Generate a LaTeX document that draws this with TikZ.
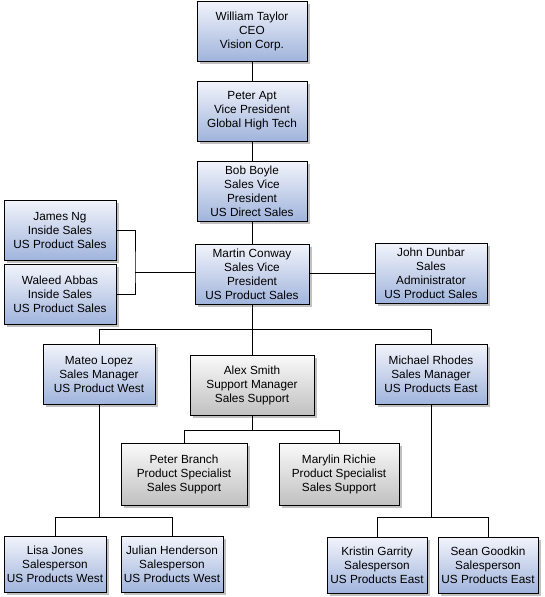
\documentclass[tikz,border=0pt]{standalone}
\usepackage{fontspec}
\setmainfont{Liberation Sans}
\usepackage{tikz}
\usepackage{xcolor}
\usetikzlibrary{positioning,shadows}

\definecolor{boxTop}{RGB}{242,244,251}
\definecolor{boxBottom}{RGB}{160,180,220}
\definecolor{greyTop}{RGB}{250,250,250}
\definecolor{greyBottom}{RGB}{192,192,192}

\tikzset{
  person/.style={draw=black,line width=0.9pt,align=center,inner sep=1pt,
    font=\fontsize{11.8}{14}\selectfont,
    top color=boxTop,bottom color=boxBottom,
    drop shadow={shadow xshift=3pt,shadow yshift=-3pt,fill=black!35,opacity=0.7},
    minimum width=110pt,minimum height=60pt},
  support/.style={person,top color=greyTop,bottom color=greyBottom},
  link/.style={draw=black,line width=0.9pt}
}

\begin{document}
\begin{tikzpicture}[x=1pt,y=-1pt]
\path[use as bounding box] (0,0) rectangle (544,597);

% top of the chain
\node[person] (ceo) at (252,31) {William Taylor\\CEO\\Vision Corp.};
\node[person] (vp) at (252,111) {Peter Apt\\Vice President\\Global High Tech};
\node[person] (bob) at (252,191) {Bob Boyle\\Sales Vice\\President\\US Direct Sales};
\node[person,minimum width=114pt] (martin) at (252,274) {Martin Conway\\Sales Vice\\President\\US Product Sales};

% assistants and staff
\node[person,minimum width=112pt] (james) at (60,230) {James Ng\\Inside Sales\\US Product Sales};
\node[person,minimum width=112pt] (waleed) at (60,294) {Waleed Abbas\\Inside Sales\\US Product Sales};
\node[person,minimum width=112pt] (john) at (431,273) {John Dunbar\\Sales\\Administrator\\US Product Sales};

% managers
\node[person,minimum width=112pt] (mateo) at (99,374) {Mateo Lopez\\Sales Manager\\US Product West};
\node[support,minimum width=124pt] (alex) at (252,385) {Alex Smith\\Support Manager\\Sales Support};
\node[person,minimum width=112pt] (michael) at (431,374) {Michael Rhodes\\Sales Manager\\US Products East};

% specialists
\node[support,minimum width=126pt,minimum height=62pt] (branch) at (184,474) {Peter Branch\\Product Specialist\\Sales Support};
\node[support,minimum width=120pt,minimum height=62pt] (richie) at (339,474) {Marylin Richie\\Product Specialist\\Sales Support};

% salespeople
\node[person,minimum width=102pt,minimum height=56pt] (lisa) at (55,564) {Lisa Jones\\Salesperson\\US Products West};
\node[person,minimum width=102pt,minimum height=56pt] (julian) at (172,564) {Julian Henderson\\Salesperson\\US Products West};
\node[person,minimum width=100pt,minimum height=56pt] (kristin) at (377,565) {Kristin Garrity\\Salesperson\\US Products East};
\node[person,minimum width=100pt,minimum height=56pt] (sean) at (488,565) {Sean Goodkin\\Salesperson\\US Products East};

% connectors
\draw[link] (ceo.south) -- (vp.north);
\draw[link] (vp.south) -- (bob.north);
\draw[link] (bob.south) -- (martin.north);

\coordinate (join) at (135,272);
\draw[link] (james.east) -| (join) |- (waleed.east);
\draw[link] (join) -- (join -| martin.west);
\draw[link] (martin.east |- john.west) -- (john.west);

\draw[link] (martin.south) -- ++(0,25) -| (mateo.north);
\draw[link] (martin.south) -- ++(0,25) -| (michael.north);
\draw[link] (martin.south) -- (alex.north);

\draw[link] (alex.south) -- ++(0,15) -| (branch.north);
\draw[link] (alex.south) -- ++(0,15) -| (richie.north);

\draw[link] (mateo.south) -- ++(0,113) -| (lisa.north);
\draw[link] (mateo.south) -- ++(0,113) -| (julian.north);
\draw[link] (michael.south) -- ++(0,113) -| (kristin.north);
\draw[link] (michael.south) -- ++(0,113) -| (sean.north);
\end{tikzpicture}
\end{document}
